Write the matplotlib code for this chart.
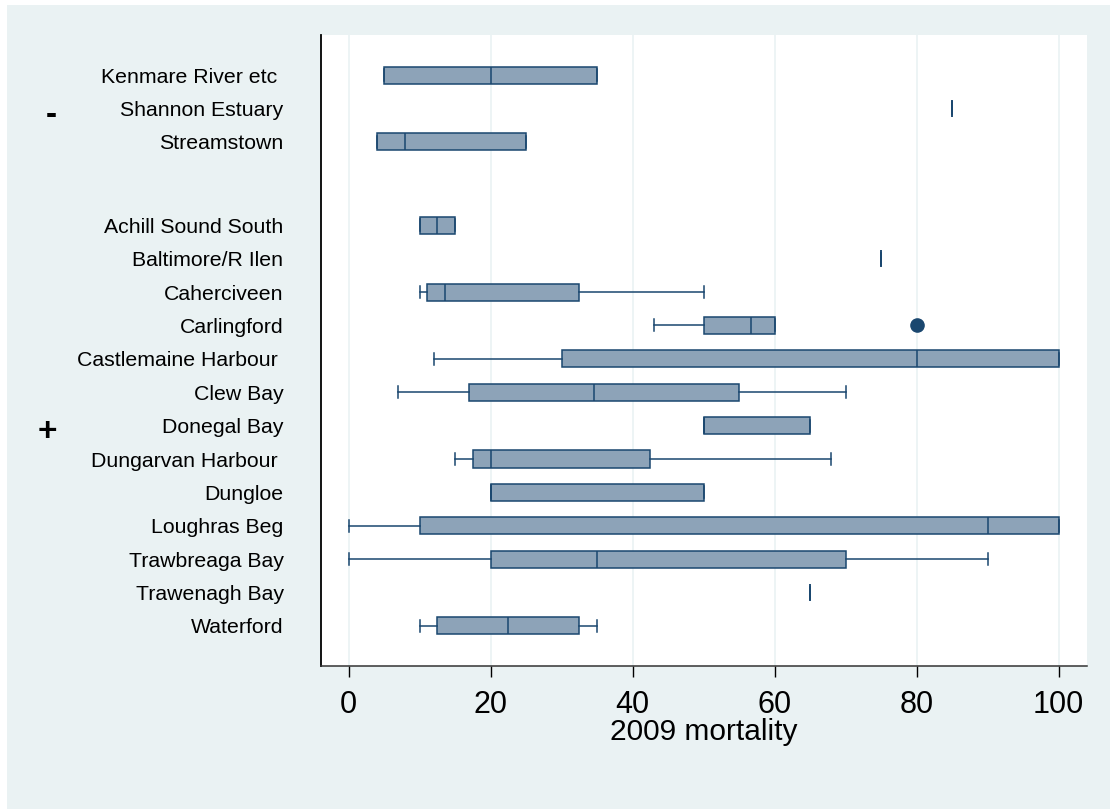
import matplotlib
matplotlib.use("Agg")
import matplotlib.pyplot as plt
from matplotlib.patches import Rectangle
from matplotlib.transforms import blended_transform_factory, ScaledTranslation

plt.rcParams['font.family'] = ['Liberation Sans', 'DejaVu Sans']

# Sites grouped by sign
group_labels = ["-", "+"]
group_sites = [
    ["Kenmare River etc ", "Shannon Estuary", "Streamstown"],
    ["Achill Sound South", "Baltimore/R Ilen", "Caherciveen", "Carlingford",
     "Castlemaine Harbour ", "Clew Bay", "Donegal Bay", "Dungarvan Harbour ",
     "Dungloe", "Loughras Beg", "Trawbreaga Bay", "Trawenagh Bay", "Waterford"],
]

# Box-plot summaries of 2009 mortality, one entry per site (in the order above)
whisker_low = [5, 85, 4, 10, 75, 10, 43, 12, 7, 50, 15, 20, 0, 0, 65, 10]
quartile_1 = [5, 85, 4, 10, 75, 11, 50, 30, 17, 50, 17.5, 20, 10, 20, 65, 12.5]
medians = [20, 85, 8, 12.5, 75, 13.5, 56.7, 80, 34.5, 50, 20, 20, 90, 35, 65, 22.5]
quartile_3 = [35, 85, 25, 15, 75, 32.5, 60, 100, 55, 65, 42.5, 50, 100, 70, 65, 32.5]
whisker_high = [35, 85, 25, 15, 75, 50, 60, 100, 70, 65, 68, 50, 100, 90, 65, 35]
outliers = [[], [], [], [], [], [], [80], [], [], [], [], [], [], [], [], []]

x_ticks = [0, 20, 40, 60, 80, 100]
x_label = "2009 mortality"

NAVY = "#1A476F"
FILL = "#8DA3B8"
BG = "#EAF2F3"

# Row positions: one slot per site, with a gap between groups
group_gap = 1.5
positions, site_names, group_centers = [], [], []
pos = 0.0
for sites in group_sites:
    start = pos
    for s in sites:
        positions.append(pos)
        site_names.append(s)
        pos += 1
    group_centers.append((start + pos - 1) / 2)
    pos += group_gap

stats = []
for i, name in enumerate(site_names):
    stats.append(dict(label=name, whislo=whisker_low[i], q1=quartile_1[i],
                      med=medians[i], q3=quartile_3[i], whishi=whisker_high[i],
                      fliers=outliers[i]))

fig = plt.figure(figsize=(11.1, 8.09), dpi=100)
fig.patch.set_facecolor("white")
fig.add_artist(Rectangle((7 / 1110, 0), 1, 1 - 5 / 809, transform=fig.transFigure,
                         facecolor=BG, edgecolor="none", zorder=-10))

ax = fig.add_axes([321 / 1110, 1 - 666 / 809, (1087 - 321) / 1110, (666 - 35) / 809])
ax.set_facecolor("white")

ax.bxp(stats, positions=positions, orientation="horizontal", widths=0.51,
       capwidths=0.36, patch_artist=True, showfliers=True,
       boxprops=dict(facecolor=FILL, edgecolor=NAVY, linewidth=1.1),
       medianprops=dict(color=NAVY, linewidth=1.1),
       whiskerprops=dict(color=NAVY, linewidth=1.1),
       capprops=dict(color=NAVY, linewidth=1.1),
       flierprops=dict(marker="o", markerfacecolor=NAVY, markeredgecolor=NAVY,
                       markersize=9.5, linestyle="none"))

ax.set_xlim(-3.9, 104)
ax.set_ylim(positions[-1] + 1.2, positions[0] - 1.2)

ax.set_xticks(x_ticks)
ax.set_xticklabels([str(t) for t in x_ticks])
ax.set_yticks(positions)
ax.set_yticklabels(site_names)
ax.tick_params(axis="y", length=0, pad=27, labelsize=15.3, colors="black")
ax.tick_params(axis="x", length=8, width=1, pad=9, labelsize=22, colors="black")

ax.grid(axis="x", color=BG, linewidth=1.2, zorder=0)
ax.set_axisbelow(True)

for side in ("top", "right"):
    ax.spines[side].set_visible(False)
ax.spines["left"].set_linewidth(1.3)
ax.spines["bottom"].set_linewidth(1.1)
ax.spines["left"].set_color("black")
ax.spines["bottom"].set_color("#333333")

ax.set_xlabel(x_label, fontsize=21.5, labelpad=-1)

# Group labels to the left of the site names, nudged slightly downward
trans = blended_transform_factory(fig.transFigure, ax.transData)
nudge = ScaledTranslation(0, -5 / 72, fig.dpi_scale_trans)
for lbl, yc in zip(group_labels, group_centers):
    ax.text(57 / 1110, yc, lbl, transform=trans + nudge, ha="right", va="center",
            fontsize=24, fontweight="bold", clip_on=False)

fig.savefig("out.png", dpi=100)
